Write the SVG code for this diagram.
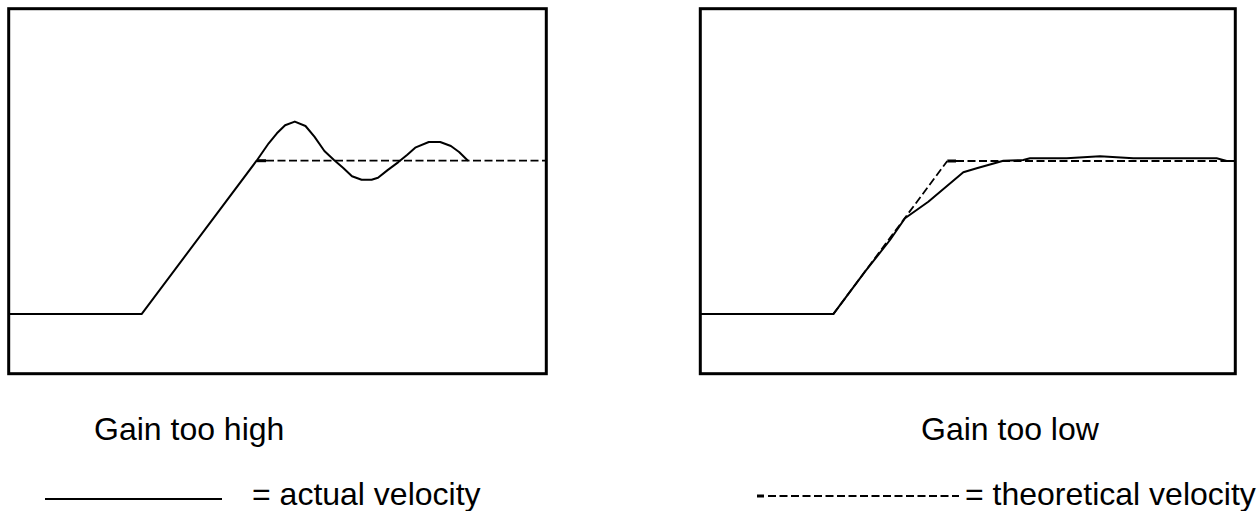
<svg xmlns="http://www.w3.org/2000/svg" width="1260" height="511" viewBox="0 0 1260 511">
<style>
.frame{fill:none;stroke:#000;stroke-width:3}
.actual{fill:none;stroke:#000;stroke-width:2;stroke-linejoin:round}
.theory{fill:none;stroke:#000;stroke-width:1.8;stroke-dasharray:8 3.5}
.tick{stroke:#000;stroke-width:3}
.lbl{font-family:"Liberation Sans",Arial,sans-serif;font-size:32px;fill:#000}
</style>
<rect width="1260" height="511" fill="#fff"/>
<g id="chart-high">
<rect class="frame" x="8.7" y="8.7" width="537.6" height="365"/>
<path class="theory" d="M266,160.7 H545"/>
<line class="tick" x1="257" y1="160.7" x2="266" y2="160.7"/>
<path class="actual" d="M8.7,314.1 H141.6 L256.6,160.7 L268.7,143.3 L276.9,133.3 L285.1,125.2 L294.8,121.6 L305.5,126 L314.4,136.6 L324.4,151 L334,160 L343,167.8 L352,176.2 L361.6,179.8 L371.6,179.8 L378,177.8 L387.6,170.1 L398.4,162.1 L407.3,154.7 L415.2,147.7 L428.8,142 L440.2,142 L450.9,146 L459.1,152 L468,160.7"/>
</g>
<g id="chart-low">
<rect class="frame" x="700.3" y="8.7" width="535" height="365"/>
<path class="theory" d="M833.3,314.1 L947.3,161 M956,161 H1234"/>
<line class="tick" x1="947.3" y1="161" x2="956" y2="161"/>
<path class="actual" d="M700.3,314.1 H833.3 L865,271.7 L890,240 L905,218.3 L928.3,201.7 L963.3,172.3 L976.7,168.3 L1003.3,160.7 L1023.3,160 L1030,158.3 L1066.7,158.3 L1100,156.3 L1133.3,158.3 L1216.7,158.3 L1226.7,161 L1234,161"/>
</g>
<g id="labels">
<text class="lbl" x="94" y="440">Gain too high</text>
<text class="lbl" x="921" y="440">Gain too low</text>
</g>
<g id="legend">
<line x1="45" y1="499" x2="222" y2="499" stroke="#000" stroke-width="2"/>
<text class="lbl" x="252" y="505">= actual velocity</text>
<line class="tick" x1="757" y1="496" x2="764" y2="496"/>
<line class="theory" x1="768" y1="496" x2="959" y2="496"/>
<text class="lbl" x="965" y="505">= theoretical velocity</text>
</g>
</svg>
